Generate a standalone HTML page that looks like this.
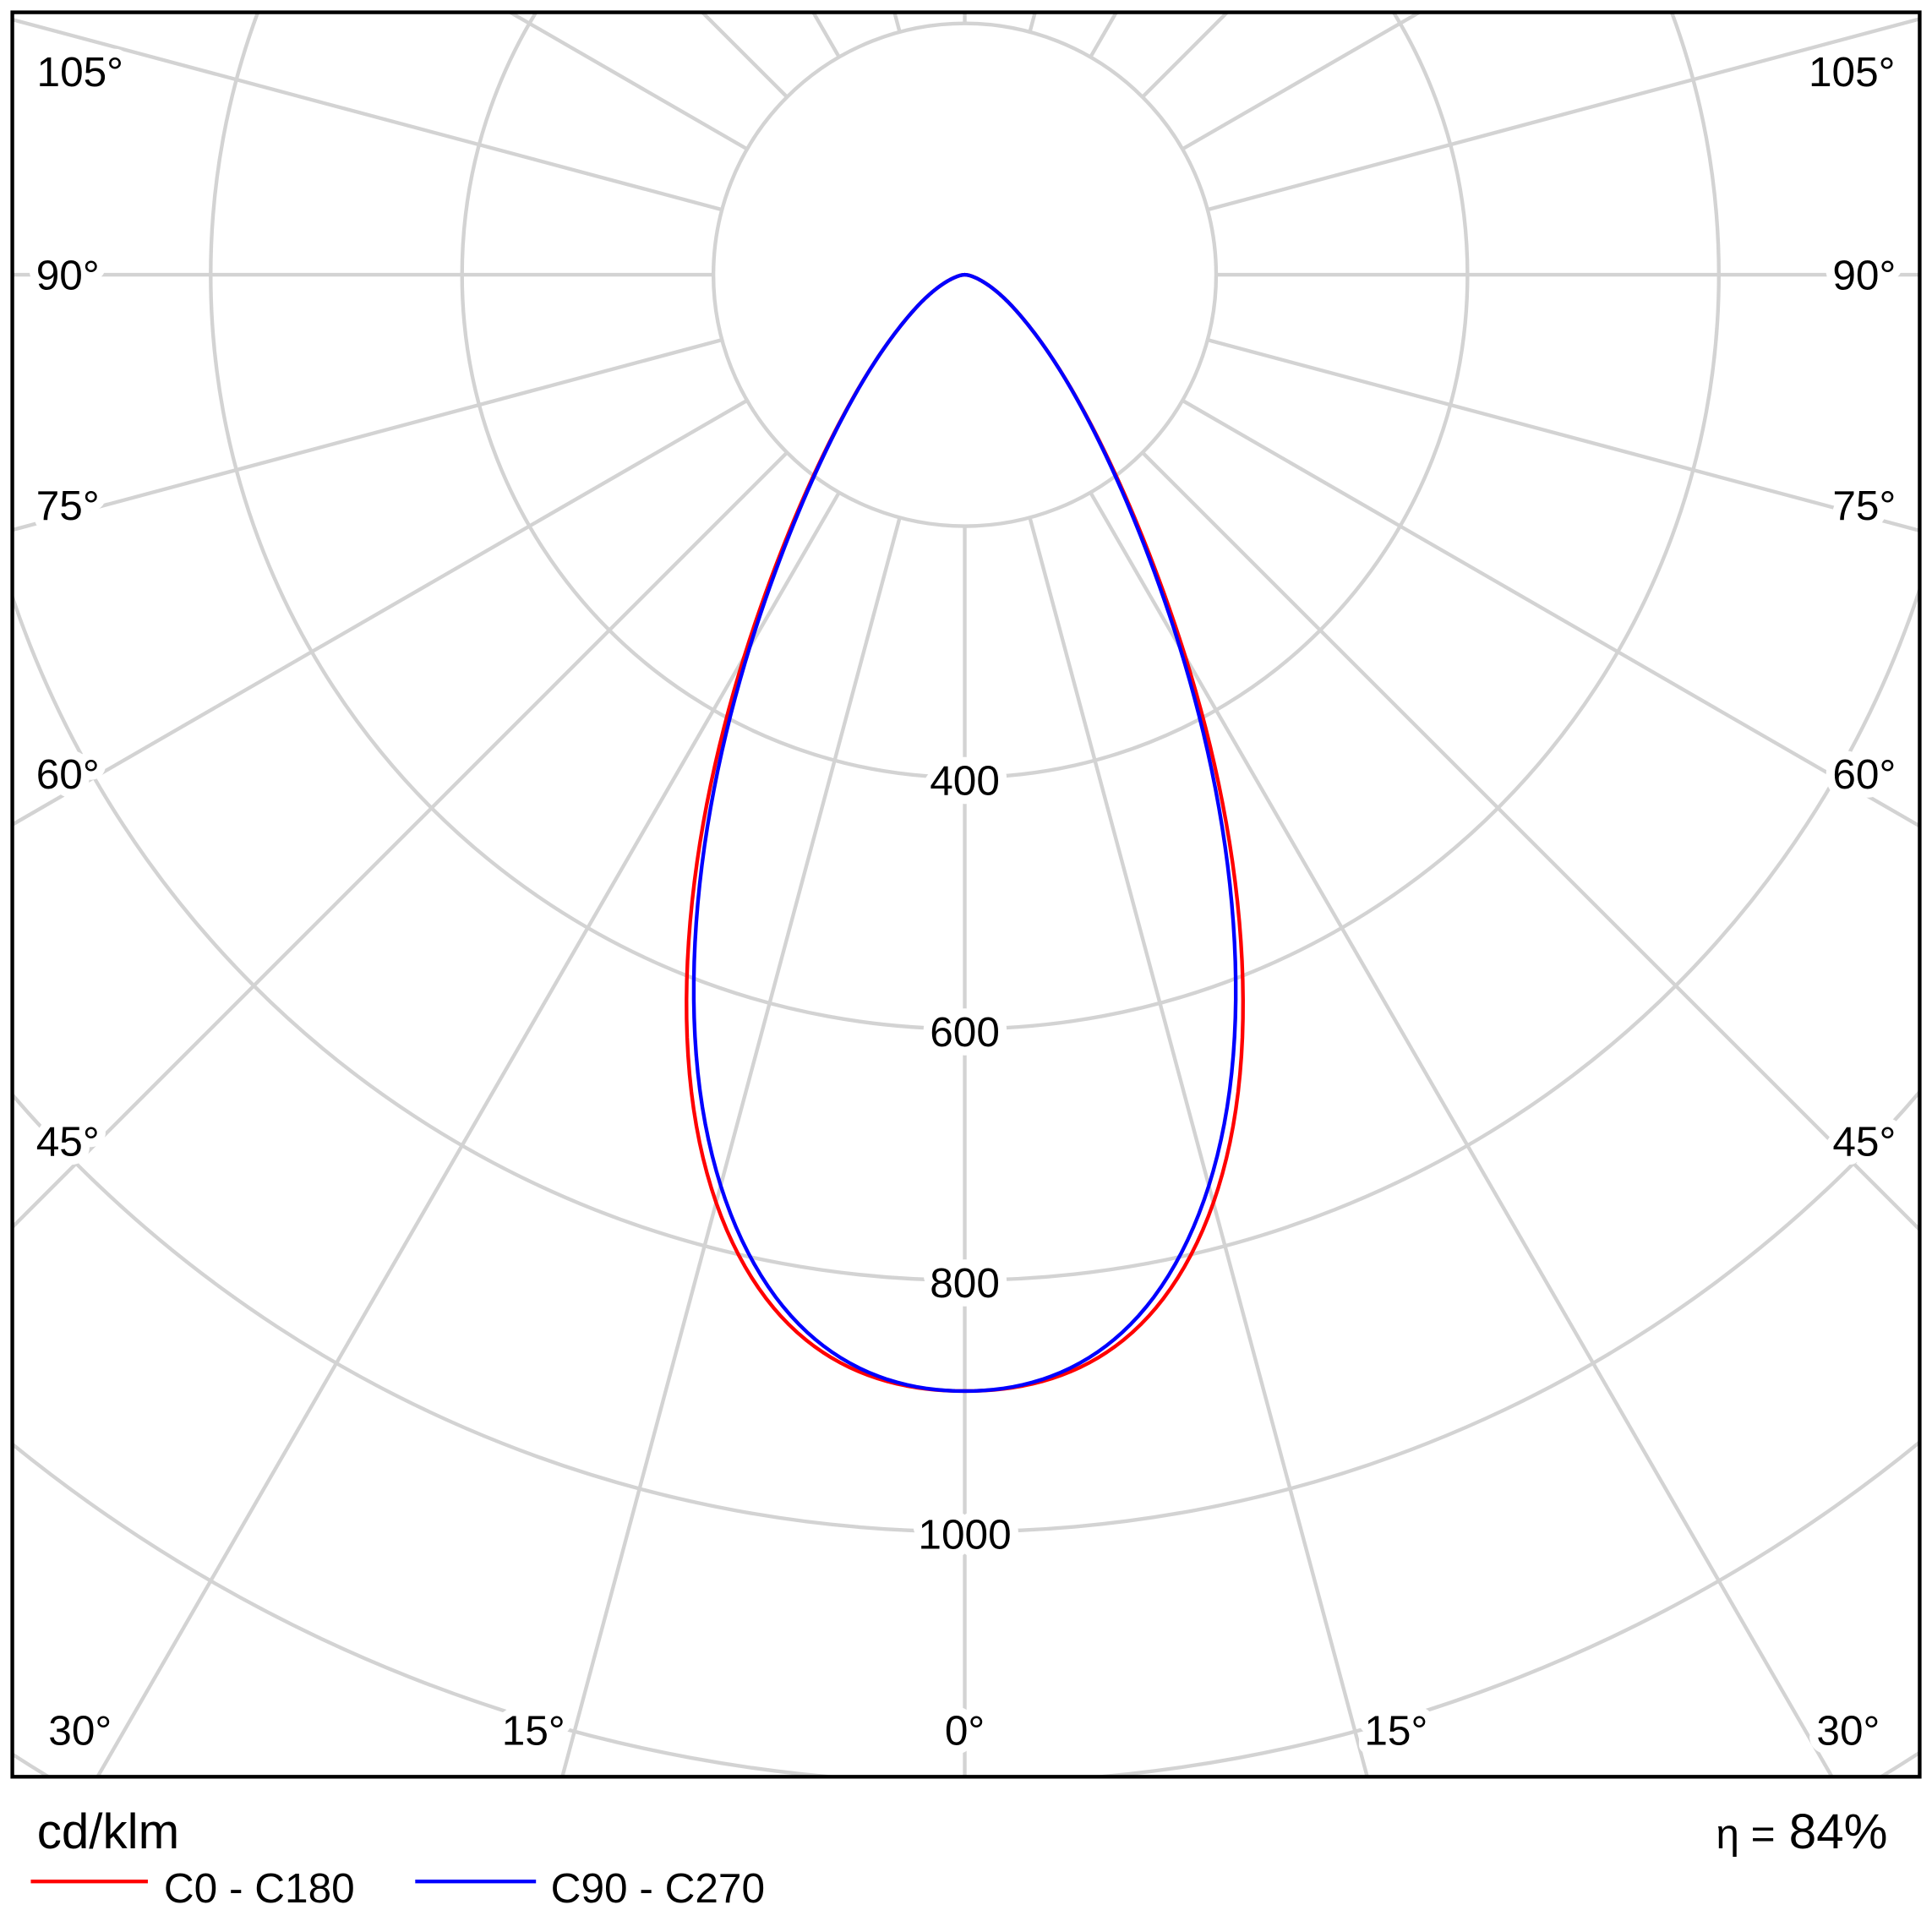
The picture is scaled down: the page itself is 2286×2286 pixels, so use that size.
<!DOCTYPE html>
<html><head><meta charset="utf-8"><style>
html,body{margin:0;padding:0;background:#fff;width:2286px;height:2286px;overflow:hidden}
svg{display:block;position:absolute;left:0;top:0}
text{font-family:"Liberation Sans","DejaVu Sans",sans-serif}
</style></head><body>
<svg id="s" width="2286" height="2286" viewBox="0 0 1568 1568" xmlns="http://www.w3.org/2000/svg">
<defs><clipPath id="c"><rect x="10" y="10" width="1548" height="1432"/></clipPath></defs>
<rect x="0" y="0" width="1568" height="1568" fill="#fff"/>
<g id="grid" clip-path="url(#c)" stroke="#d3d3d3" stroke-width="3" fill="none"></g>
<g id="curves" clip-path="url(#c)" fill="none" stroke-width="3" stroke-linejoin="round"></g>
<g id="labels" font-size="34" fill="#000" text-anchor="middle" stroke="#fff" stroke-width="14" paint-order="stroke" stroke-linejoin="round"></g>
<rect x="10" y="10" width="1548" height="1432" fill="none" stroke="#000" stroke-width="3"/>
<text x="30" y="1500" font-size="40">cd/klm</text>
<text x="1532" y="1500" font-size="40" text-anchor="end"><tspan font-size="34">η =</tspan> 84%</text>
<line x1="25" y1="1527" x2="120" y2="1527" stroke="#f00" stroke-width="3"/>
<text x="133" y="1544" font-size="34">C0 - C180</text>
<line x1="337" y1="1527" x2="435" y2="1527" stroke="#00f" stroke-width="3"/>
<text x="447" y="1544" font-size="34">C90 - C270</text>
</svg>
<script>
var NS="http://www.w3.org/2000/svg",cx=783,cy=223,u=204;
function el(p,t,a){var e=document.createElementNS(NS,t);for(var k in a)e.setAttribute(k,a[k]);p.appendChild(e);return e;}
var g=document.getElementById('grid');
for(var k=1;k<=10;k++)el(g,'circle',{cx:cx,cy:cy,r:u*k});
for(var a=0;a<360;a+=15){var r=a*Math.PI/180;el(g,'line',{x1:cx+u*Math.sin(r),y1:cy+u*Math.cos(r),x2:cx+3000*Math.sin(r),y2:cy+3000*Math.cos(r)});}
var L=document.getElementById('labels');
function t(x,y,s){var e=el(L,'text',{x:x,y:y+12});e.textContent=s;}
[[58,'105°'],[223,'90°'],[410,'75°'],[628,'60°'],[926,'45°']].forEach(function(p){var xo=p[1]=='105°'?65:55;t(xo,p[0],p[1]);t(1568-xo,p[0],p[1]);});
t(65,1404,'30°');t(1500,1404,'30°');t(433,1404,'15°');t(1133,1404,'15°');t(783,1404,'0°');
t(783,633,'400');t(783,837,'600');t(783,1041,'800');t(783,1245,'1000');
function spline(xs,ys){var n=xs.length,h=[],al=[],l=[1],mu=[0],z=[0],c=new Array(n).fill(0),b=[],d=[];
for(var i=0;i<n-1;i++)h[i]=xs[i+1]-xs[i];
for(var i=1;i<n-1;i++)al[i]=3/h[i]*(ys[i+1]-ys[i])-3/h[i-1]*(ys[i]-ys[i-1]);
for(var i=1;i<n-1;i++){l[i]=2*(xs[i+1]-xs[i-1])-h[i-1]*mu[i-1];mu[i]=h[i]/l[i];z[i]=(al[i]-h[i-1]*z[i-1])/l[i];}
l[n-1]=1;z[n-1]=0;c[n-1]=0;
for(var j=n-2;j>=0;j--){c[j]=z[j]-mu[j]*c[j+1];b[j]=(ys[j+1]-ys[j])/h[j]-h[j]*(c[j+1]+2*c[j])/3;d[j]=(c[j+1]-c[j])/(3*h[j]);}
return function(x){var i=0;while(i<n-2&&x>xs[i+1])i++;var dx=x-xs[i];return ys[i]+b[i]*dx+c[i]*dx*dx+d[i]*dx*dx*dx;};}
var T=[0,9.5,18,24.5,32.1,44.3,58.3,90],R=[906,864,712,524,303,115,40,0];
var xs=[],ys=[];for(var i=T.length-1;i>0;i--){xs.push(-T[i]);ys.push(R[i]);}for(var i=0;i<T.length;i++){xs.push(T[i]);ys.push(R[i]);}
var f=spline(xs,ys);
function curve(scale){var pts=[];for(var a=-90;a<=90.001;a+=0.5){var th=Math.abs(a),r=Math.max(0,f(a))*scale(th),rad=a*Math.PI/180;pts.push((cx+r*Math.sin(rad)).toFixed(2)+','+(cy+r*Math.cos(rad)).toFixed(2));}return pts.join(' ');}
var C=document.getElementById('curves');
el(C,'polyline',{points:curve(function(){return 1;}),stroke:'#f00'});
el(C,'polyline',{points:curve(function(th){var s=Math.sin(Math.PI*th/50);return th<50?1-0.028*s*s:1;}),stroke:'#00f'});
</script>
</body></html>
